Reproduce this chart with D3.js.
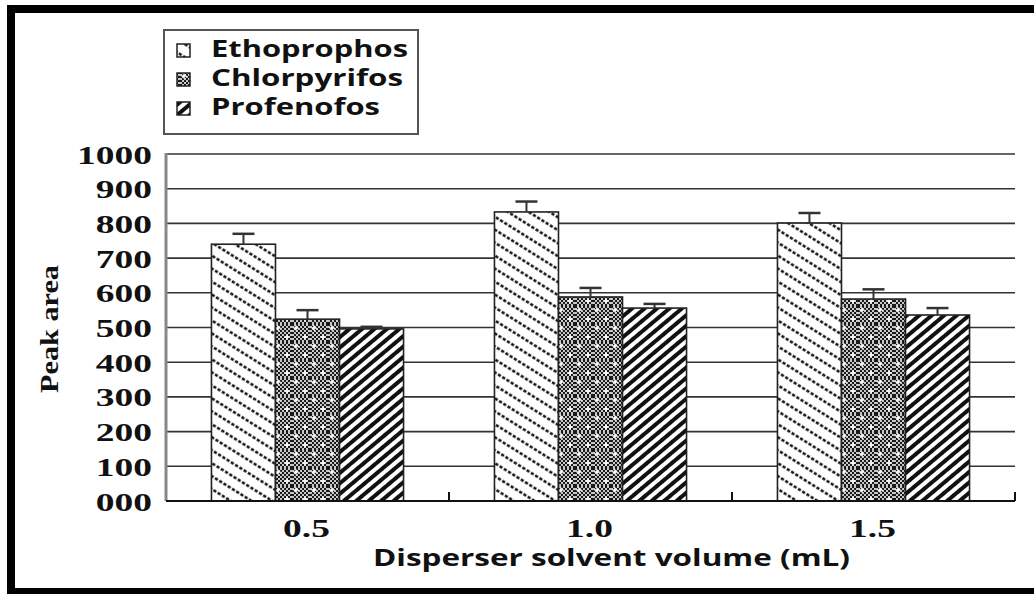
<!DOCTYPE html>
<html><head><meta charset="utf-8">
<script src="https://cdn.jsdelivr.net/npm/d3@7"></script>
<style>body{margin:0;background:#fff}svg{display:block}</style>
</head><body>
<svg id="chart" width="1034" height="594"></svg>
<script>
// ---- data ----
const categories = ["0.5", "1.0", "1.5"];
const seriesNames = ["Ethoprophos", "Chlorpyrifos", "Profenofos"];
const ethoprophos = [740, 833, 801];
const chlorpyrifos = [524, 588, 582];
const profenofos = [496, 556, 536];
const ethoprophosErr = [30, 30, 29];
const chlorpyrifosErr = [26, 26, 28];
const profenofosErr = [6, 12, 20];
const yTicks = [0, 100, 200, 300, 400, 500, 600, 700, 800, 900, 1000];
const yTickLabels = ["000", "100", "200", "300", "400", "500", "600", "700", "800", "900", "1000"];
const xTitle = "Disperser solvent volume (mL)";
const yTitle = "Peak area";

const seriesValues = [ethoprophos, chlorpyrifos, profenofos];
const seriesErrs = [ethoprophosErr, chlorpyrifosErr, profenofosErr];
const patternIds = ["pEtho", "pChlor", "pProf"];

const svg = d3.select("#chart");
const W = 1034, H = 594;
const plot = {left: 166, right: 1015, top: 154, bottom: 501};
const sansFont = "'Open Sans', 'DejaVu Sans', sans-serif";
const serifFont = "'Liberation Serif', 'DejaVu Serif', serif";

// ---- patterns ----
const defs = svg.append("defs");
const pe = defs.append("pattern").attr("id", "pEtho").attr("patternUnits", "userSpaceOnUse")
  .attr("width", 11).attr("height", 10).attr("patternTransform", "rotate(-58)");
pe.append("rect").attr("width", 11).attr("height", 10).attr("fill", "#fff");
pe.append("line").attr("x1", 5.5).attr("y1", 0).attr("x2", 5.5).attr("y2", 10)
  .attr("stroke", "#000").attr("stroke-width", 2.3).attr("stroke-dasharray", "3.2,1.8");

const pk = defs.append("pattern").attr("id", "pChk").attr("patternUnits", "userSpaceOnUse")
  .attr("width", 4).attr("height", 4);
pk.append("rect").attr("width", 4).attr("height", 4).attr("fill", "#c8c8c8");
pk.append("rect").attr("width", 2).attr("height", 2).attr("fill", "#1a1a1a");
pk.append("rect").attr("x", 2).attr("y", 2).attr("width", 2).attr("height", 2).attr("fill", "#1a1a1a");

const pc = defs.append("pattern").attr("id", "pChlor").attr("patternUnits", "userSpaceOnUse")
  .attr("width", 18).attr("height", 18);
pc.append("rect").attr("width", 18).attr("height", 18).attr("fill", "url(#pChk)");
[[4, 4], [13, 13]].forEach(([cx, cy]) => {
  pc.append("rect").attr("x", cx - 2.5).attr("y", cy - 0.75).attr("width", 5).attr("height", 1.5).attr("fill", "#fff");
  pc.append("rect").attr("x", cx - 0.75).attr("y", cy - 2.5).attr("width", 1.5).attr("height", 5).attr("fill", "#fff");
});

const pp = defs.append("pattern").attr("id", "pProf").attr("patternUnits", "userSpaceOnUse")
  .attr("width", 8).attr("height", 8).attr("patternTransform", "rotate(50)");
pp.append("rect").attr("width", 8).attr("height", 8).attr("fill", "#fff");
pp.append("rect").attr("width", 4).attr("height", 8).attr("fill", "#111");

// ---- frame ----
svg.append("rect").attr("x", 7).attr("y", 5).attr("width", W - 7).attr("height", 8).attr("fill", "#000");
svg.append("rect").attr("x", 7).attr("y", 5).attr("width", 8).attr("height", H - 5).attr("fill", "#000");
svg.append("rect").attr("x", 7).attr("y", 588).attr("width", W - 7).attr("height", 6).attr("fill", "#000");

// ---- scales ----
const x0 = d3.scaleBand().domain(categories).range([plot.left, plot.right]).paddingInner(0).paddingOuter(0);
const x1 = d3.scaleBand().domain(seriesNames).range([0, x0.bandwidth()]).paddingInner(0).paddingOuter(0.71);
const y = d3.scaleLinear().domain([0, 1000]).range([plot.bottom, plot.top]);

// gridlines
svg.append("g").selectAll("line").data(yTicks.filter(d => d > 0)).join("line")
  .attr("x1", plot.left).attr("x2", plot.right)
  .attr("y1", d => y(d)).attr("y2", d => y(d))
  .attr("stroke", "#333").attr("stroke-width", 1.6);

// y axis
const yAxis = svg.append("g").attr("transform", `translate(${plot.left},0)`)
  .call(d3.axisLeft(y).tickValues(yTicks).tickSize(0).tickFormat((d, i) => yTickLabels[i]));
yAxis.select(".domain").remove();
yAxis.selectAll("text")
  .attr("x", 0).attr("dy", "0.36em")
  .attr("transform", "translate(-14,0) scale(1.5,1)")
  .attr("text-anchor", "end")
  .style("font-family", serifFont)
  .style("font-weight", "bold").style("font-size", "25px").style("fill", "#111");
svg.append("line").attr("x1", plot.left).attr("x2", plot.left).attr("y1", plot.top - 1).attr("y2", plot.bottom)
  .attr("stroke", "#888").attr("stroke-width", 3);

// bars
const groups = svg.append("g").selectAll("g").data(categories).join("g")
  .attr("transform", d => `translate(${x0(d)},0)`);
groups.each(function (cat, ci) {
  const g = d3.select(this);
  seriesNames.forEach((s, si) => {
    const v = seriesValues[si][ci];
    g.append("rect").attr("x", x1(s)).attr("y", y(v)).attr("width", x1.bandwidth())
      .attr("height", y(0) - y(v)).attr("fill", `url(#${patternIds[si]})`)
      .attr("stroke", "#222").attr("stroke-width", 1.6);
  });
  seriesNames.forEach((s, si) => {
    const v = seriesValues[si][ci], e = seriesErrs[si][ci];
    const cx = x1(s) + x1.bandwidth() / 2;
    g.append("line").attr("x1", cx).attr("x2", cx).attr("y1", y(v)).attr("y2", y(v + e))
      .attr("stroke", "#333").attr("stroke-width", 2);
    g.append("line").attr("x1", cx - 11).attr("x2", cx + 11).attr("y1", y(v + e)).attr("y2", y(v + e))
      .attr("stroke", "#333").attr("stroke-width", 2.5);
  });
});

// x axis
const xAxis = svg.append("g").attr("transform", `translate(0,${plot.bottom})`)
  .call(d3.axisBottom(x0).tickSize(0));
xAxis.select(".domain").remove();
xAxis.selectAll("text")
  .attr("y", 0).attr("dy", 0)
  .attr("transform", "translate(-1,36) scale(1.5,1)")
  .style("font-family", serifFont)
  .style("font-weight", "bold").style("font-size", "25px").style("fill", "#111");
svg.append("line").attr("x1", plot.left).attr("x2", plot.right).attr("y1", plot.bottom).attr("y2", plot.bottom)
  .attr("stroke", "#111").attr("stroke-width", 2);
svg.append("g").selectAll("line").data(categories.slice(1).concat(["end"])).join("line")
  .attr("x1", d => d === "end" ? plot.right : x0(d))
  .attr("x2", d => d === "end" ? plot.right : x0(d))
  .attr("y1", plot.bottom).attr("y2", plot.bottom - 9)
  .attr("stroke", "#111").attr("stroke-width", 2);

// axis titles
svg.append("text").attr("x", 373).attr("y", 566)
  .attr("textLength", 477).attr("lengthAdjust", "spacingAndGlyphs")
  .style("font-family", sansFont).style("font-weight", "bold")
  .style("font-size", "23px").style("fill", "#111").text(xTitle);
svg.append("text").attr("transform", `translate(58,329) rotate(-90)`)
  .attr("x", -64).attr("textLength", 128).attr("lengthAdjust", "spacingAndGlyphs")
  .style("font-family", serifFont).style("font-weight", "bold")
  .style("font-size", "25px").style("fill", "#111").text(yTitle);

// legend
const legendTextLen = [197, 192, 169];
const lg = svg.append("g");
lg.append("rect").attr("x", 164).attr("y", 30).attr("width", 254).attr("height", 104)
  .attr("fill", "#fff").attr("stroke", "#555").attr("stroke-width", 2);
const rowBase = [57, 86, 115];
seriesNames.forEach((s, i) => {
  lg.append("rect").attr("x", 177).attr("y", rowBase[i] - 13).attr("width", 13).attr("height", 13)
    .attr("fill", `url(#${patternIds[i]})`).attr("stroke", "#222").attr("stroke-width", 1.5);
  lg.append("text").attr("x", 211).attr("y", rowBase[i])
    .attr("textLength", legendTextLen[i]).attr("lengthAdjust", "spacingAndGlyphs")
    .style("font-family", sansFont).style("font-weight", "bold")
    .style("font-size", "23px").style("fill", "#111").text(s);
});
</script>
</body></html>
